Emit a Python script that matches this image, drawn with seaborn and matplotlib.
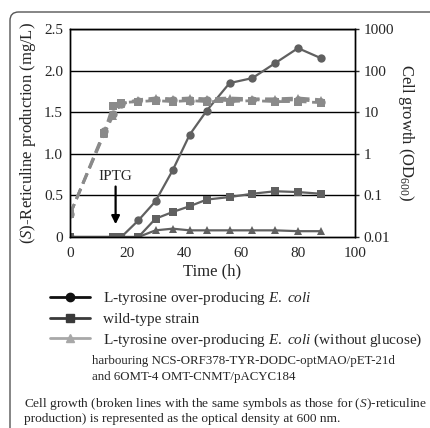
import numpy as np
import pandas as pd
import matplotlib
matplotlib.use("Agg")
import matplotlib.pyplot as plt
import seaborn as sns
from matplotlib.lines import Line2D
from matplotlib.patches import FancyBboxPatch

# production sampling times (h) and (S)-reticuline (mg/L)
time_prod = [0, 15, 18, 24, 30, 36, 42, 48, 56, 64, 72, 80, 88]
prod_tyr = [0, 0, 0, 0.2, 0.43, 0.8, 1.23, 1.52, 1.85, 1.91, 2.09, 2.27, 2.15]
prod_wt = [0, 0, 0, 0, 0.22, 0.3, 0.37, 0.45, 0.48, 0.52, 0.55, 0.54, 0.52]
prod_noglc = [0, 0, 0, 0, 0.08, 0.1, 0.08, 0.08, 0.08, 0.08, 0.08, 0.07, 0.07]

# cell growth (OD600), log axis
time_od = [0, 12, 15, 18, 24, 30, 36, 42, 48, 56, 64, 72, 80, 88]
od_tyr = [0.035, 3.5, 9, 16, 19, 20, 20, 19, 20, 19, 20, 19, 20, 18]
od_wt = [0.035, 3.2, 14, 17, 18, 19, 18, 19, 18, 18, 19, 18, 18, 17]
od_noglc = [0.035, 3.0, 8, 16, 20, 22, 21, 22, 21, 22, 21, 21, 22, 20]

left_ticks = [0, 0.5, 1.0, 1.5, 2.0, 2.5]
left_labels = ["0", "0.5", "1.0", "1.5", "2.0", "2.5"]
right_ticks = [0.01, 0.1, 1, 10, 100, 1000]
right_labels = ["0.01", "0.1", "1", "10", "100", "1000"]
x_ticks = [0, 20, 40, 60, 80, 100]

labels = ["L-tyrosine over-producing $E.\\ coli$",
          "wild-type strain",
          "L-tyrosine over-producing $E.\\ coli$ (without glucose)"]

sns.set_style("white")
plt.rcParams["font.family"] = ["Liberation Serif", "DejaVu Serif"]
plt.rcParams["mathtext.fontset"] = "custom"
plt.rcParams["mathtext.rm"] = "Liberation Serif"
plt.rcParams["mathtext.it"] = "Liberation Serif:italic"

fig = plt.figure(figsize=(4.3, 4.28), dpi=100)
W, H = 430, 428
ax = fig.add_axes([70 / W, 1 - 237 / H, 285 / W, 208 / H])

line_col = "#606060"
dash_col = "#8a8a8a"

df_prod = pd.DataFrame({"t": time_prod, "tyr": prod_tyr, "wt": prod_wt, "noglc": prod_noglc})
df_od = pd.DataFrame({"t": time_od, "tyr": od_tyr, "wt": od_wt, "noglc": od_noglc})

ax2 = ax.twinx()
ax2.set_yscale("log")

markers = {"tyr": "o", "wt": "s", "noglc": "^"}
for key in ["noglc", "wt", "tyr"]:
    sns.lineplot(data=df_od, x="t", y=key, ax=ax2, color=dash_col, marker=markers[key],
                 markersize=6, markeredgewidth=0, linewidth=2, dashes=False,
                 linestyle=(0, (4, 2)))
for key in ["noglc", "wt", "tyr"]:
    sns.lineplot(data=df_prod, x="t", y=key, ax=ax, color=line_col, marker=markers[key],
                 markersize=6, markeredgewidth=0, linewidth=1.6)

ax.set_xlim(0, 100)
ax.set_ylim(0, 2.5)
ax2.set_ylim(0.01, 1000)
ax.set_yticks(left_ticks)
ax.set_yticklabels(left_labels)
ax.set_xticks(x_ticks)
ax2.set_yticks(right_ticks)
ax2.set_yticklabels(right_labels)
ax2.yaxis.set_minor_locator(matplotlib.ticker.NullLocator())
for v in left_ticks[1:]:
    ax.axhline(v, color="black", lw=1.0, zorder=1)
for a in (ax, ax2):
    for s in a.spines.values():
        s.set_color("black")
        s.set_linewidth(1.0)
ax.tick_params(axis="x", direction="out", length=4, width=1, labelsize=11, pad=3)
ax.tick_params(axis="y", length=0, labelsize=11, pad=5)
ax2.tick_params(axis="y", direction="out", length=3, width=1, labelsize=11, pad=3)
ax.set_xlabel("Time (h)", fontsize=12, labelpad=3)
ax.set_ylabel("($S$)-Reticuline production (mg/L)", fontsize=12, labelpad=4)
ax2.set_ylabel("Cell growth (OD$_{600}$)", fontsize=12, rotation=270, labelpad=16)
ax.grid(False)
ax2.grid(False)

ax.annotate("", xy=(16, 0.12), xytext=(16, 0.64),
            arrowprops=dict(arrowstyle="-|>", color="black", lw=1.6, mutation_scale=12))
ax.text(16, 0.73, "IPTG", ha="center", va="center", fontsize=11)

# legend
handles = [
    Line2D([], [], color="#111111", marker="o", markersize=6, lw=2),
    Line2D([], [], color="#3a3a3a", marker="s", markersize=6, lw=2),
    Line2D([], [], color="#a8a8a8", marker="^", markersize=6, lw=2),
]
fig.legend(handles, labels, loc="upper left", bbox_to_anchor=(50 / W, 1 - 290 / H),
           frameon=False, fontsize=11, handlelength=2.6, handletextpad=0.9,
           labelspacing=0.35, borderaxespad=0, borderpad=0)

fig.text(92 / W, 1 - 361 / H, "harbouring NCS-ORF378-TYR-DODC-optMAO/pET-21d",
         fontsize=9.3, va="center")
fig.text(92 / W, 1 - 377 / H, "and 6OMT-4 OMT-CNMT/pACYC184", fontsize=9.3, va="center")
fig.text(24 / W, 1 - 404 / H,
         "Cell growth (broken lines with the same symbols as those for ($S$)-reticuline",
         fontsize=9.6, va="center")
fig.text(24 / W, 1 - 419 / H,
         "production) is represented as the optical density at 600 nm.",
         fontsize=9.6, va="center")

# outer rounded frame
box = FancyBboxPatch((10 / W, -0.1), 1.1, (416 / H) + 0.1,
                     boxstyle="round,pad=0,rounding_size=0.02",
                     transform=fig.transFigure, fill=False, ec="#555555", lw=1.0)
fig.patches.append(box)

fig.savefig("out.png", dpi=100)
